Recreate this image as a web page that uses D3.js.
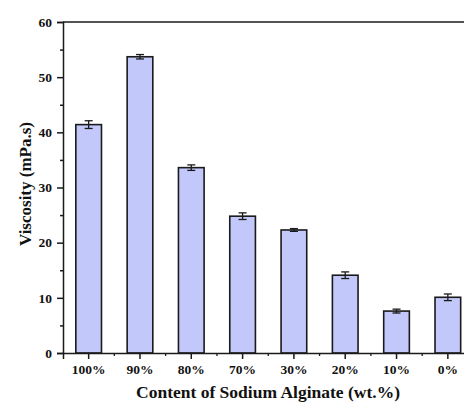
<!DOCTYPE html>
<html>
<head>
<meta charset="utf-8">
<script src="https://cdn.jsdelivr.net/npm/d3@7"></script>
<style>
	body { margin: 0; background: #fff; }
	svg { display: block; }
	text { font-family: "Liberation Serif", "Times New Roman", serif; font-weight: bold; fill: #111; }
</style>
</head>
<body>
<div id="chart"></div>
<script>
//Data
var categories = ["100%", "90%", "80%", "70%", "30%", "20%", "10%", "0%"];
var viscosity = [41.4, 53.7, 33.6, 24.8, 22.3, 14.1, 7.6, 10.1];
var errors = [0.7, 0.4, 0.5, 0.6, 0.25, 0.6, 0.35, 0.6];
var yTicks = [0, 10, 20, 30, 40, 50, 60];

var width = 464, height = 405;
//plot area runs past the right edge of the picture (it is cropped)
var margin = {left: 63, top: 22, plotRight: 473.5, bottom: 353};

var svg = d3.select("#chart").append("svg")
	.attr("width", width)
	.attr("height", height);

var x = d3.scaleBand()
	.domain(categories)
	.range([margin.left, margin.plotRight])
	.paddingInner(0.5)
	.paddingOuter(0.25);

var y = d3.scaleLinear()
	.domain([0, 60])
	.range([margin.bottom, margin.top]);

///////////////////////////////////////////////////////////////////////////
//////////////////////////////// Bars /////////////////////////////////////
///////////////////////////////////////////////////////////////////////////

svg.selectAll(".bar")
	.data(viscosity)
	.enter().append("rect")
	.attr("class", "bar")
	.attr("x", function(d,i) { return x(categories[i]); })
	.attr("y", function(d) { return y(d); })
	.attr("width", x.bandwidth())
	.attr("height", function(d) { return y(0) - y(d); })
	.style("fill", "#c2c8fa")
	.style("stroke", "#1a1a1a")
	.style("stroke-width", 1.6);

//Error bars
var err = svg.selectAll(".err")
	.data(viscosity)
	.enter().append("g")
	.attr("class", "err")
	.style("stroke", "#1a1a1a")
	.style("stroke-width", 1.3);

err.append("line")
	.attr("x1", function(d,i) { return x(categories[i]) + x.bandwidth()/2; })
	.attr("x2", function(d,i) { return x(categories[i]) + x.bandwidth()/2; })
	.attr("y1", function(d,i) { return y(d + errors[i]); })
	.attr("y2", function(d,i) { return y(d - errors[i]); });

[1, -1].forEach(function(s) {
	err.append("line")
		.attr("x1", function(d,i) { return x(categories[i]) + x.bandwidth()/2 - 4; })
		.attr("x2", function(d,i) { return x(categories[i]) + x.bandwidth()/2 + 4; })
		.attr("y1", function(d,i) { return y(d + s*errors[i]); })
		.attr("y2", function(d,i) { return y(d + s*errors[i]); });
});

///////////////////////////////////////////////////////////////////////////
//////////////////////////////// Axes /////////////////////////////////////
///////////////////////////////////////////////////////////////////////////

var yAxis = svg.append("g")
	.attr("transform", "translate(" + margin.left + ",0)")
	.call(d3.axisLeft(y).tickValues(yTicks).tickSize(6).tickPadding(5));

//minor y ticks
svg.append("g")
	.attr("transform", "translate(" + margin.left + ",0)")
	.call(d3.axisLeft(y).tickValues([5, 15, 25, 35, 45, 55]).tickSize(3).tickFormat(""))
	.select(".domain").remove();

var xAxis = svg.append("g")
	.attr("transform", "translate(0," + margin.bottom + ")")
	.call(d3.axisBottom(x).tickSize(6).tickPadding(5));

//minor x ticks between categories
var minorX = categories.slice(1).map(function(c) { return x(c) - x.step()*0.25; });
svg.append("g")
	.selectAll("line")
	.data(minorX)
	.enter().append("line")
	.attr("x1", function(d) { return d; })
	.attr("x2", function(d) { return d; })
	.attr("y1", margin.bottom)
	.attr("y2", margin.bottom + 3)
	.style("stroke", "#1a1a1a")
	.style("stroke-width", 1.3);

//top frame line
svg.append("line")
	.attr("x1", margin.left)
	.attr("x2", width)
	.attr("y1", margin.top)
	.attr("y2", margin.top)
	.style("stroke", "#1a1a1a")
	.style("stroke-width", 1.6);

svg.selectAll(".domain, .tick line")
	.style("stroke", "#1a1a1a")
	.style("stroke-width", 1.5);

svg.selectAll(".tick text")
	.style("font-family", "'Liberation Serif', serif")
	.style("font-weight", "bold")
	.style("font-size", "13.5px")
	.style("fill", "#111");

///////////////////////////////////////////////////////////////////////////
///////////////////////////// Axis titles /////////////////////////////////
///////////////////////////////////////////////////////////////////////////

svg.append("text")
	.attr("x", 268)
	.attr("y", 398)
	.style("text-anchor", "middle")
	.style("font-size", "17.5px")
	.text("Content of Sodium Alginate (wt.%)");

svg.append("text")
	.attr("transform", "translate(31,184) rotate(-90)")
	.style("text-anchor", "middle")
	.style("font-size", "17px")
	.text("Viscosity (mPa.s)");
</script>
</body>
</html>
